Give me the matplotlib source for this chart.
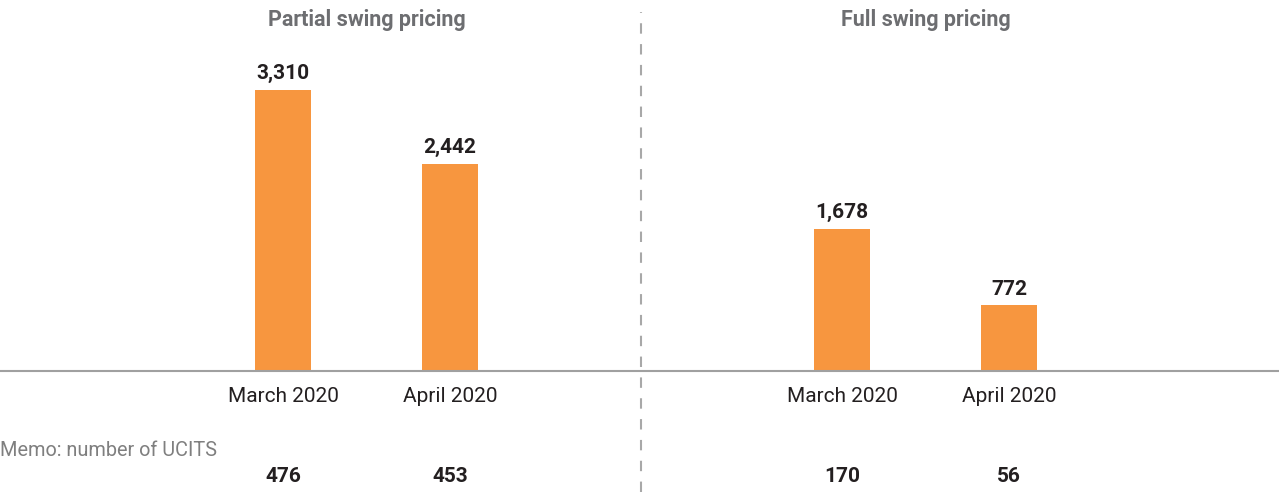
import matplotlib
matplotlib.use("Agg")
import matplotlib.pyplot as plt
import matplotlib.font_manager as fm

fams = [f.name for f in fm.fontManager.ttflist]
narrow = "Liberation Sans Narrow" if "Liberation Sans Narrow" in fams else "Roboto"
plt.rcParams['font.family'] = [narrow, 'DejaVu Sans']

panels = ["Partial swing pricing", "Full swing pricing"]
categories = ["March 2020", "April 2020"]
partial_values = [3310, 2442]
full_values = [1678, 772]
partial_ucits = [476, 453]
full_ucits = [170, 56]
memo_label = "Memo: number of UCITS"

W, H = 1279, 492
fig = plt.figure(figsize=(W / 100, H / 100), dpi=100)

base_px = 371
ybot = (H - base_px) / H
unit = 167.0  # px per category step
bar_w = 56 / unit
ymax = 4370

panel_specs = [
    (0, 641, 283, partial_values, partial_ucits, panels[0]),
    (641, 1279, 842, full_values, full_ucits, panels[1]),
]
orange = "#F7963F"
dark = "#231F20"
gray = "#6D6E71"

for (x0, x1, c0, vals, ucits, title) in panel_specs:
    ax = fig.add_axes([x0 / W, ybot, (x1 - x0) / W, 1 - ybot])
    ax.set_xlim(-(c0 - x0) / unit, (x1 - c0) / unit)
    ax.set_ylim(0, ymax)
    xs = list(range(len(categories)))
    ax.bar(xs, vals, width=bar_w, color=orange, zorder=2)
    for x, v in zip(xs, vals):
        ax.annotate(f"{v:,}", (x, v), xytext=(0, 5), textcoords="offset points",
                    ha="center", va="bottom", fontsize=15, fontweight="bold", color=dark)
    ax.axis("off")
    fig.text((c0 + 0.5 * unit) / W, 1 - 20 / H, title, ha="center", va="center",
             fontsize=15.5, fontweight="bold", color=gray)
    for x, lab, u in zip(xs, categories, ucits):
        xf = (c0 + x * unit) / W
        fig.text(xf, 1 - 397 / H, lab, ha="center", va="center", fontsize=15, color=dark)
        fig.text(xf, 1 - 477 / H, f"{u:,}", ha="center", va="center", fontsize=15,
                 fontweight="bold", color=dark)

# baseline
fig.add_artist(plt.Line2D([0, 1], [ybot, ybot], color="#A0A0A0", lw=1.5))
# divider
fig.add_artist(plt.Line2D([641 / W, 641 / W], [0, 1 - 12 / H], color="#A8A8A8", lw=1.5,
                          linestyle=(0, (5, 5))))

fig.text(0, 1 - 450 / H, memo_label, ha="left", va="center", fontsize=14.3, color="#7F7F7F")

fig.savefig("out.png", dpi=100)
